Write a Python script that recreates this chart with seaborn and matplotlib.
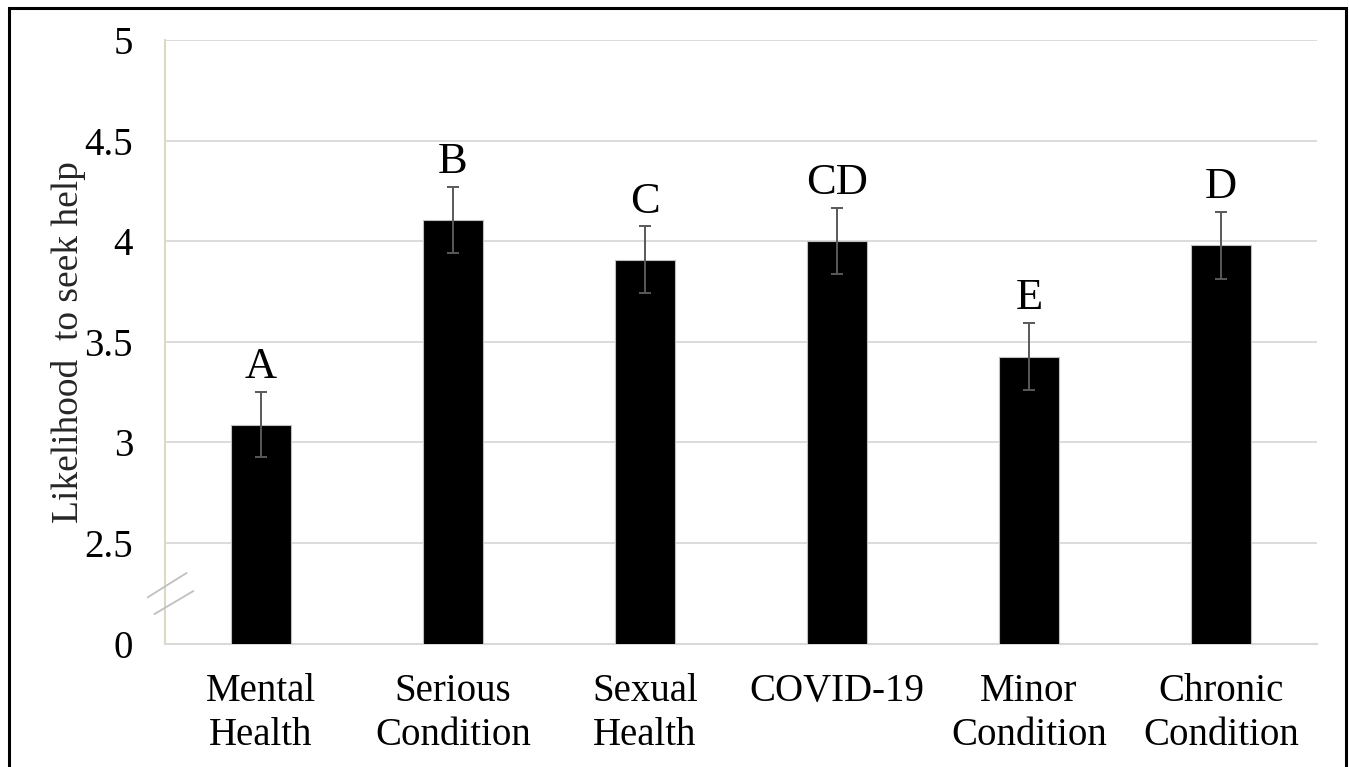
import matplotlib
matplotlib.use("Agg")
import matplotlib.pyplot as plt
import seaborn as sns
import pandas as pd
from matplotlib.patches import Rectangle
from matplotlib.lines import Line2D

categories = ["Mental\nHealth", "Serious\nCondition", "Sexual\nHealth",
              "COVID-19", "Minor\nCondition", "Chronic\nCondition"]
means = [3.088, 4.106, 3.908, 4.002, 3.426, 3.980]
errors = [0.163, 0.165, 0.165, 0.165, 0.166, 0.166]
letters = ["A", "B", "C", "CD", "E", "D"]
tick_values = [2.0, 2.5, 3.0, 3.5, 4.0, 4.5, 5.0]
tick_labels = ["0", "2.5", "3", "3.5", "4", "4.5", "5"]
grid_values = [2.5, 3.0, 3.5, 4.0, 4.5, 5.0]

sns.set_theme(style="white")
plt.rcParams["font.family"] = ["Liberation Serif", "DejaVu Serif"]

W, H = 1349, 767
fig = plt.figure(figsize=(W / 100, H / 100), dpi=100)
ax = fig.add_axes([165 / W, 1 - 643.5 / H, (1317 - 165) / W, (643.5 - 40) / H])

df = pd.DataFrame({"cat": categories, "mean": means})
sns.barplot(data=df, x="cat", y="mean", color="black", width=0.3125,
            edgecolor="#bfbfbf", linewidth=0.8, saturation=1, ax=ax, zorder=3)

ax.errorbar(x=list(range(len(categories))), y=means, yerr=errors, fmt="none",
            ecolor="#595959", elinewidth=1.4, capsize=4.5, capthick=1.4, zorder=4)

for i, (m, e, t) in enumerate(zip(means, errors, letters)):
    ax.annotate(t, xy=(i, m + e), xytext=(0, 10), textcoords="offset points",
                ha="center", va="baseline", fontsize=32, color="black", zorder=5)

ax.set_ylim(2.0, 5.0)
ax.set_xlim(-0.5, len(categories) - 0.5)
ax.set_yticks(tick_values)
ax.set_yticklabels(tick_labels)
for g in grid_values:
    ax.axhline(g, color="#d9d9d9", linewidth=1.3, zorder=1)

ax.set_xlabel("")
ax.set_ylabel("Likelihood  to seek help", fontsize=27, labelpad=-1)
ax.tick_params(axis="y", length=0, pad=23, labelsize=28, labelcolor="black")
ax.tick_params(axis="x", length=0, pad=21, labelsize=28, labelcolor="black")
for lbl in ax.get_xticklabels():
    lbl.set_linespacing(1.27)

for s in ["top", "right"]:
    ax.spines[s].set_visible(False)
ax.spines["left"].set_color("#ddd8c4")
ax.spines["left"].set_linewidth(1.5)
ax.spines["bottom"].set_color("#d9d9d9")
ax.spines["bottom"].set_linewidth(1.5)

# axis break marks
for (x0, y0, x1, y1) in [(-0.015, 0.0765, 0.0188, 0.117),
                         (-0.0092, 0.0488, 0.0246, 0.0869)]:
    ax.add_line(Line2D([x0, x1], [y0, y1], transform=ax.transAxes,
                       color="#c0c0c0", linewidth=1.3, clip_on=False, zorder=6))

# figure border
fig.patches.append(Rectangle((8.7 / W, -0.05), (1346.3 - 8.7) / W, 1.05 - 7.8 / H,
                             transform=fig.transFigure, fill=False,
                             edgecolor="black", linewidth=2.2))

fig.savefig("out.png", dpi=100)
